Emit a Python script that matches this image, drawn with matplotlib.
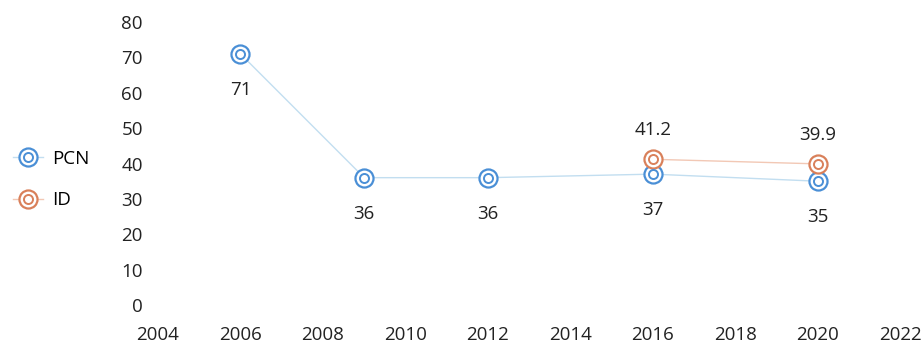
import matplotlib.pyplot as plt
from matplotlib.legend_handler import HandlerTuple
from matplotlib.lines import Line2D

plt.rcParams['font.family'] = ['Open Sans', 'DejaVu Sans']

# data
pcn_years = [2006, 2009, 2012, 2016, 2020]
pcn_values = [71, 36, 36, 37, 35]
id_years = [2016, 2020]
id_values = [41.2, 39.9]
x_ticks = list(range(2004, 2023, 2))
y_ticks = list(range(0, 81, 10))

blue = '#4a8fd6'
orange = '#d9805a'
fs = 13.5

fig = plt.figure(figsize=(9.22, 3.45), dpi=100)
ax = fig.add_axes([0.1714, 0.116, 0.805, 0.82])


def ring_series(x, y, color, line_color):
    ax.plot(x, y, color=line_color, lw=1.0, zorder=1)
    ax.plot(x, y, ls='none', marker='o', ms=13, mfc='white', mec=color, mew=1.6, zorder=3)
    ax.plot(x, y, ls='none', marker='o', ms=6.5, mfc='none', mec=color, mew=1.4, zorder=4)


ring_series(pcn_years, pcn_values, blue, '#c2def0')
ring_series(id_years, id_values, orange, '#f2c8b5')

for x, y in zip(pcn_years, pcn_values):
    ax.annotate(str(y), (x, y), xytext=(0, -26), textcoords='offset points',
                ha='center', va='center', fontsize=fs, color='#222222')
for x, y in zip(id_years, id_values):
    ax.annotate(f'{y:.1f}', (x, y), xytext=(0, 21), textcoords='offset points',
                ha='center', va='center', fontsize=fs, color='#222222')

ax.set_xlim(2004, 2022)
ax.set_ylim(0, 80)
ax.set_xticks(x_ticks)
ax.set_yticks(y_ticks)
ax.tick_params(axis='both', length=0, labelsize=fs, colors='#222222')
ax.tick_params(axis='x', pad=15)
ax.tick_params(axis='y', pad=11)
for s in ax.spines.values():
    s.set_visible(False)


def legend_handle(color, line_color):
    line = Line2D([], [], color=line_color, lw=1.0)
    outer = Line2D([], [], ls='none', marker='o', ms=13, mfc='white', mec=color, mew=1.6)
    inner = Line2D([], [], ls='none', marker='o', ms=6.5, mfc='none', mec=color, mew=1.4)
    return (line, outer, inner)


fig.legend([legend_handle(blue, '#c2def0'), legend_handle(orange, '#f2c8b5')], ['PCN', 'ID'],
           handler_map={tuple: HandlerTuple(ndivide=1)}, loc='center left',
           bbox_to_anchor=(-0.004, 0.48), frameon=False, fontsize=fs,
           handlelength=1.6, labelspacing=1.25, handletextpad=0.5)

fig.savefig('out.png', dpi=100)
